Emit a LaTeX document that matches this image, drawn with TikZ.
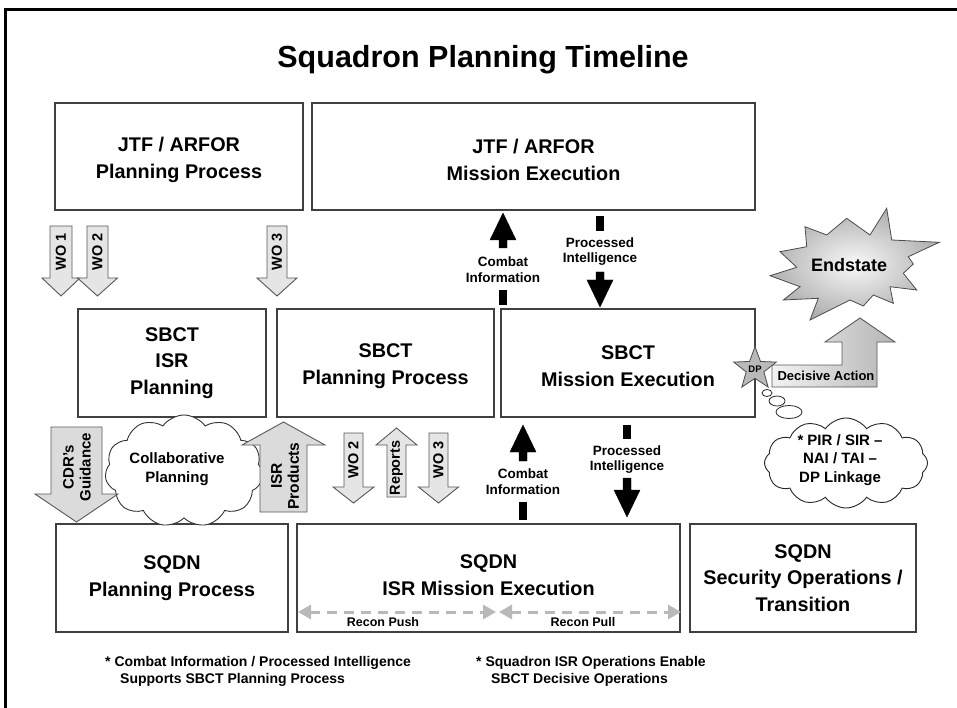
\documentclass[tikz,border=0pt]{standalone}
\usepackage{fontspec}
\setmainfont{Liberation Sans}
\usetikzlibrary{shapes.symbols,shapes.geometric,arrows.meta}
% vertical block arrow: [style]{cx}{tail y}{head base y}{tip y}{shaft half}{head half}
\newcommand\myvarrow[7][]{%
  \draw[#1] ({#2-#6},#3) -- ({#2+#6},#3) -- ({#2+#6},#4) -- ({#2+#7},#4) -- (#2,#5)
    -- ({#2-#7},#4) -- ({#2-#6},#4) -- cycle;}
\begin{document}
\begin{tikzpicture}[x=1pt,y=-1pt,
  box/.style={draw=black!75, line width=1.2pt, fill=white, inner sep=0pt},
  boxtext/.style={align=center, inner sep=0pt, font=\fontsize{19.8}{26.5}\selectfont\bfseries},
  gblock/.style={draw=black!65, line width=0.9pt, fill=gray!20},
  gblockd/.style={draw=black!65, line width=0.9pt, fill=gray!28},
  blk/.style={fill=black},
  rottext/.style={rotate=90, align=center, inner sep=0pt, font=\fontsize{14.5}{17}\selectfont\bfseries},
  small/.style={align=center, inner sep=0pt, font=\fontsize{13.5}{15.5}\selectfont\bfseries},
  cloudtext/.style={align=center, inner sep=0pt, font=\fontsize{15}{18.5}\selectfont\bfseries},
  bubble/.style={draw=black!85, line width=0.8pt, fill=white},
  recon/.style={draw=gray!55, line width=3pt, dash pattern=on 10pt off 7pt,
    {Triangle[length=13pt,width=14pt]}-{Triangle[length=13pt,width=14pt]}},
  note/.style={anchor=north west, align=left, inner sep=0pt, font=\fontsize{14}{17}\selectfont\bfseries}]
\useasboundingbox (0,0) rectangle (957,708);
\fill[white] (0,0) rectangle (957,708);
% frame
\draw[line width=3pt] (5,708) -- (5,10) -- (957,10);
% title
\node[font=\fontsize{30.5}{34}\selectfont\bfseries] (title) at (483,60) {Squadron Planning Timeline};
% boxes
\node[box, minimum width=248pt, minimum height=107pt] (jtfplan) at (179,156.5) {};
\node[boxtext] (jtfplantext) at (179,160) {JTF / ARFOR\\Planning Process};
\node[box, minimum width=443pt, minimum height=107pt] (jtfexec) at (533.5,156.5) {};
\node[boxtext] (jtfexectext) at (533.5,160) {JTF / ARFOR\\Mission Execution};
\node[box, minimum width=188pt, minimum height=108pt] (sbctisr) at (172,363) {};
\node[boxtext] (sbctisrtext) at (172,363) {SBCT\\ISR\\Planning};
\node[box, minimum width=217pt, minimum height=108pt] (sbctplan) at (385.5,363) {};
\node[boxtext] (sbctplantext) at (385.5,366) {SBCT\\Planning Process};
\node[box, minimum width=254pt, minimum height=108pt] (sbctexec) at (628,363) {};
\node[boxtext] (sbctexectext) at (628,366) {SBCT\\Mission Execution};
\node[box, minimum width=232pt, minimum height=108pt] (sqdnplan) at (172,578) {};
\node[boxtext] (sqdnplantext) at (172,578) {SQDN\\Planning Process};
\node[box, minimum width=383pt, minimum height=108pt] (sqdnisr) at (488.5,578) {};
\node[boxtext] (sqdnisrtext) at (488.5,575) {SQDN\\ISR Mission Execution};
\node[box, minimum width=226pt, minimum height=108pt] (sqdnsec) at (803,578) {};
\node[boxtext] (sqdnsectext) at (803,578) {SQDN\\Security Operations /\\Transition};
% WO arrows top
\myvarrow[gblock]{61}{226}{278}{296}{11}{19}
\myvarrow[gblock]{97.5}{226}{278}{296}{10.5}{20}
\myvarrow[gblock]{277}{226}{278}{296}{10}{20}
\node[rottext] (wo1) at (61,252) {WO 1};
\node[rottext] (wo2) at (97.5,252) {WO 2};
\node[rottext] (wo3) at (277,252) {WO 3};
% black arrows upper
\myvarrow[blk]{503}{248}{240}{213}{4}{13}
\fill (499,290) rectangle (507,305);
\node[small] (ci1) at (503,269.5) {Combat\\Information};
\fill (596,216) rectangle (604,231);
\myvarrow[blk]{600}{272}{280}{307}{4}{13}
\node[small] (pi1) at (600,251.5) {Processed\\Intelligence};
% collaborative planning cloud and arrows
\node[cloud, cloud puffs=11, cloud puff arc=110, cloud ignores aspect, draw=black!80, line width=0.9pt,
  fill=white, minimum width=158pt, minimum height=112pt] (collab) at (184,471) {};
\node[cloudtext] (collabtext) at (177,469) {Collaborative\\Planning};
\myvarrow[gblockd]{76.5}{427}{494}{522}{25.5}{41.5}
\node[rottext, font=\fontsize{15}{17}\selectfont\bfseries] (cdr) at (77,467) {CDR’s\\Guidance};
\myvarrow[gblockd]{283.5}{512}{445}{422}{23.5}{41.5}
\node[rottext, font=\fontsize{15.5}{17}\selectfont\bfseries] (isrprod) at (285,476) {ISR\\Products};
% middle small arrows
\myvarrow[gblock]{353.5}{433}{487}{503}{9.5}{20.5}
\myvarrow[gblock]{396.5}{497}{445}{428}{9.5}{20.5}
\myvarrow[gblock]{438.5}{433}{487}{503}{9.5}{20}
\node[rottext] (wo2b) at (353.5,460) {WO 2};
\node[rottext] (reports) at (396.5,468) {Reports};
\node[rottext] (wo3b) at (438.5,460) {WO 3};
% black arrows lower
\myvarrow[blk]{523}{461}{452}{425}{4}{13}
\fill (519,502) rectangle (527,520);
\node[small] (ci2) at (523,481.5) {Combat\\Information};
\fill (623,425) rectangle (631,439);
\myvarrow[blk]{627}{478}{490}{517}{4}{13}
\node[small] (pi2) at (627,459.5) {Processed\\Intelligence};
% endstate starburst
\shadedraw[draw=black!70, line width=0.8pt, inner color=gray!5, outer color=gray!62]
  (886.7,208.3) -- (891.7,240) -- (939.3,242.3) -- (908.3,256.7) -- (913.3,264) -- (903.3,273.3)
  -- (916.7,290) -- (890,286.7) -- (893.3,303.3) -- (873.3,295) -- (863.3,306) -- (850,300)
  -- (810,320) -- (818.3,298.3) -- (783.3,300) -- (800,286.7) -- (770,275.7) -- (796.7,267.3)
  -- (780,251.7) -- (806.7,246.7) -- (805,226.7) -- (826.7,235) -- (846.7,218.3) -- (870,235) -- cycle;
\node[font=\fontsize{18}{20}\selectfont\bfseries] (endstate) at (849,265) {Endstate};
% decisive action arrow
\shadedraw[draw=black!65, line width=0.9pt, left color=gray!10, right color=gray!58]
  (772,365) -- (842,365) -- (842,342) -- (825,342) -- (860,318) -- (895,342) -- (877,342)
  -- (877,387) -- (772,387) -- cycle;
\node[font=\fontsize{13}{15}\selectfont\bfseries, inner sep=0pt] (decisive) at (826,376) {Decisive Action};
\node[star, star points=5, star point ratio=2.4, minimum size=42pt, inner sep=0pt, draw=black!70,
  line width=0.8pt, fill=gray!55, font=\fontsize{9.5}{10}\selectfont\bfseries] (dp) at (755,369) {DP};
% thought cloud
\node[cloud, cloud puffs=12, cloud puff arc=110, cloud ignores aspect, draw=black!85, line width=0.9pt,
  fill=white, minimum width=163pt, minimum height=90pt] (pir) at (846,463) {};
\node[cloudtext] (pirtext) at (840,460) {* PIR / SIR –\\NAI / TAI –\\DP Linkage};
\draw[bubble] (767,393) ellipse [x radius=5, y radius=3.5];
\draw[bubble] (777,401) ellipse [x radius=8, y radius=5];
\draw[bubble] (789,412) ellipse [x radius=13, y radius=6.5];
% recon arrows
\coordinate (rp1) at (298,612);
\coordinate (rp2) at (496,612);
\coordinate (rp3) at (499,612);
\coordinate (rp4) at (681,612);
\draw[recon] (rp1) -- (rp2);
\draw[recon] (rp3) -- (rp4);
\node[font=\fontsize{12.5}{14}\selectfont\bfseries, inner sep=0pt] (push) at (383,622) {Recon Push};
\node[font=\fontsize{12.5}{14}\selectfont\bfseries, inner sep=0pt] (pull) at (583,622) {Recon Pull};
% notes
\node[note] (note1) at (105,656) {* Combat Information / Processed Intelligence\\\hspace*{15pt}Supports SBCT Planning Process};
\node[note] (note2) at (476,656) {* Squadron ISR Operations Enable\\\hspace*{15pt}SBCT Decisive Operations};
\end{tikzpicture}
\end{document}
